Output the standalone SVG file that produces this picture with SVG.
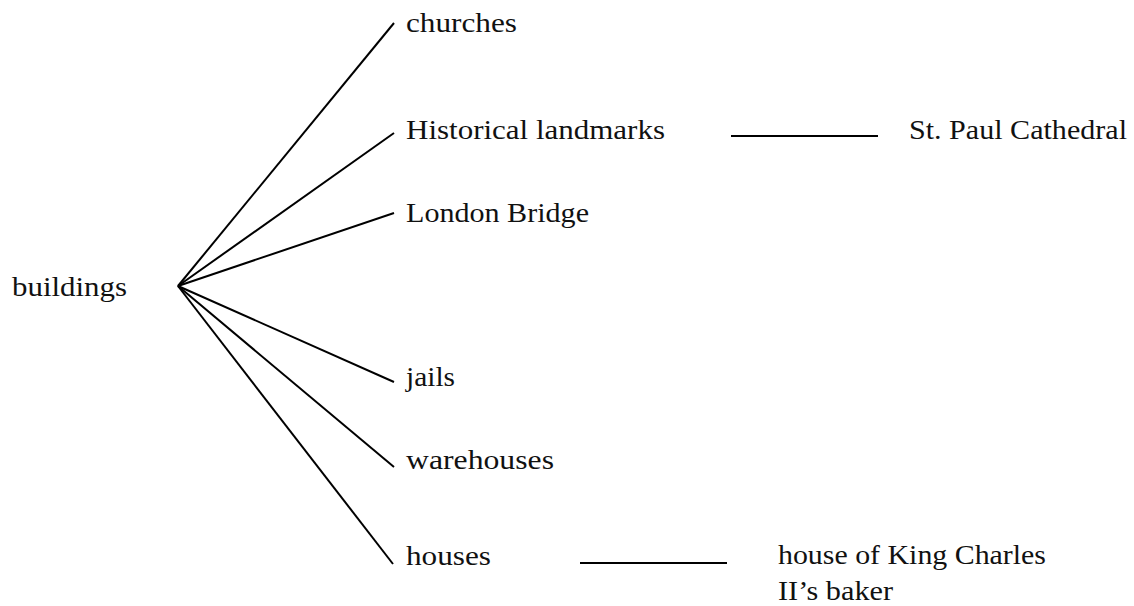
<svg xmlns="http://www.w3.org/2000/svg" width="1134" height="606" viewBox="0 0 1134 606">
  <style>
    .lbl { font-family: "Liberation Serif", "DejaVu Serif", serif; font-size: 27px; fill: #111; }
    .edge { stroke: #000; stroke-width: 2; fill: none; }
  </style>
  <rect width="1134" height="606" fill="#fff"/>

  <!-- connectors -->
  <g id="connectors">
    <line class="edge" x1="178" y1="286" x2="394" y2="23"/>
    <line class="edge" x1="178" y1="286" x2="394" y2="133"/>
    <line class="edge" x1="178" y1="286" x2="394" y2="213"/>
    <line class="edge" x1="178" y1="286" x2="394" y2="382"/>
    <line class="edge" x1="178" y1="286" x2="394" y2="467"/>
    <line class="edge" x1="178" y1="286" x2="393" y2="564"/>
    <line class="edge" x1="731" y1="136" x2="878" y2="136"/>
    <line class="edge" x1="580" y1="563" x2="727" y2="563"/>
  </g>

  <!-- nodes -->
  <g id="node-buildings"><text class="lbl" x="12" y="296" textLength="115" lengthAdjust="spacingAndGlyphs">buildings</text></g>
  <g id="node-churches"><text class="lbl" x="406" y="32" textLength="111" lengthAdjust="spacingAndGlyphs">churches</text></g>
  <g id="node-landmarks"><text class="lbl" x="406" y="139" textLength="259" lengthAdjust="spacingAndGlyphs">Historical landmarks</text></g>
  <g id="node-stpaul"><text class="lbl" x="909" y="139" textLength="218" lengthAdjust="spacingAndGlyphs">St. Paul Cathedral</text></g>
  <g id="node-london"><text class="lbl" x="406" y="222" textLength="183" lengthAdjust="spacingAndGlyphs">London Bridge</text></g>
  <g id="node-jails"><text class="lbl" x="406" y="386" textLength="49" lengthAdjust="spacingAndGlyphs">jails</text></g>
  <g id="node-warehouses"><text class="lbl" x="406" y="469" textLength="148" lengthAdjust="spacingAndGlyphs">warehouses</text></g>
  <g id="node-houses"><text class="lbl" x="406" y="565" textLength="85" lengthAdjust="spacingAndGlyphs">houses</text></g>
  <g id="node-baker">
    <text class="lbl" x="778" y="564" textLength="268" lengthAdjust="spacingAndGlyphs">house of King Charles</text>
    <text class="lbl" x="778" y="600" textLength="115" lengthAdjust="spacingAndGlyphs">II’s baker</text>
  </g>
</svg>
